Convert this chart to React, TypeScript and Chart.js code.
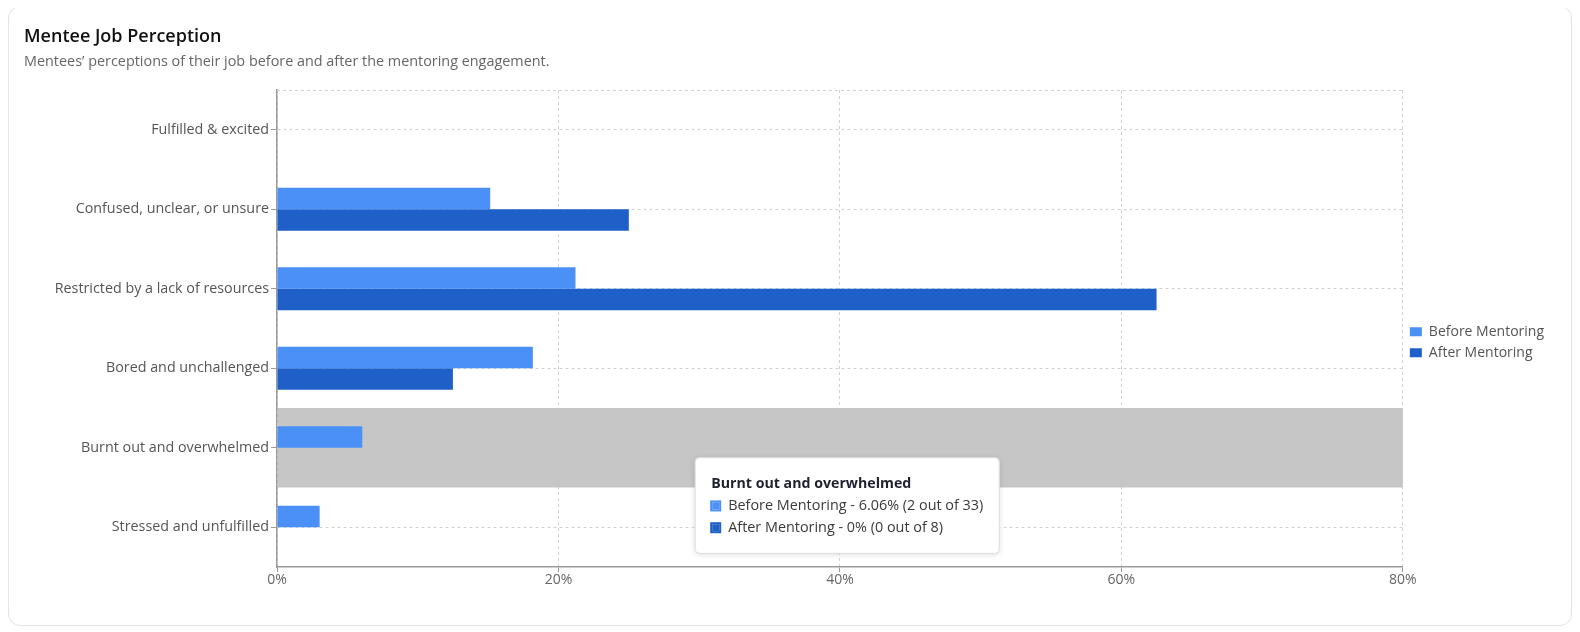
import { useEffect, useRef } from 'react';
import { Chart, registerables, Tooltip } from 'chart.js';

Chart.register(...registerables);

const FONT = '"Open Sans", "Noto Sans", sans-serif';

const categories = [
  'Fulfilled & excited',
  'Confused, unclear, or unsure',
  'Restricted by a lack of resources',
  'Bored and unchallenged',
  'Burnt out and overwhelmed',
  'Stressed and unfulfilled',
];
const beforeValues = [0, 15.15, 21.21, 18.18, 6.06, 3.03];
const afterValues = [0, 25, 62.5, 12.5, 0, 0];
const beforeCounts = [0, 5, 7, 6, 2, 1];
const afterCounts = [0, 2, 5, 1, 0, 0];
const beforeTotal = 33;
const afterTotal = 8;
const seriesLabels = ['Before Mentoring', 'After Mentoring'];
const xTickValues = [0, 20, 40, 60, 80];
const hoveredIndex = 4;
const pointerValue = 30;

const BEFORE = '#4a90f6';
const AFTER = '#1f5fc8';
const GRID = '#d2d2d2';
const AXIS = '#9a9a9a';

export default function App() {
  const ref = useRef<HTMLCanvasElement>(null);

  useEffect(() => {
    const canvas = ref.current;
    if (!canvas) return;
    Chart.defaults.font.family = FONT;
    (Tooltip.positioners as any).fixedPoint = function (_els: any, pos: any) {
      if (!pos) return false;
      return { x: pos.x, y: pos.y, xAlign: 'left', yAlign: 'top' };
    };

    const extras = {
      id: 'extras',
      beforeDatasetsDraw(chart: any) {
        const { ctx, chartArea, scales } = chart;
        const y = scales.y;
        const step = y.getPixelForValue(1) - y.getPixelForValue(0);
        const c = y.getPixelForValue(hoveredIndex);
        ctx.save();
        ctx.strokeStyle = GRID;
        ctx.lineWidth = 1;
        ctx.setLineDash([3, 3]);
        ctx.beginPath();
        ctx.moveTo(chartArea.left, chartArea.top + 0.5);
        ctx.lineTo(chartArea.right, chartArea.top + 0.5);
        ctx.stroke();
        ctx.fillStyle = '#c6c6c6';
        ctx.fillRect(chartArea.left + 1, c - step / 2, chartArea.right - chartArea.left - 1, step);
        ctx.restore();
      },
      beforeTooltipDraw(chart: any, args: any) {
        const t = args.tooltip;
        const ctx = chart.ctx;
        ctx.save();
        ctx.shadowColor = 'rgba(0,0,0,0.14)';
        ctx.shadowBlur = 6;
        ctx.shadowOffsetY = 1;
        ctx.fillStyle = '#fff';
        ctx.beginPath();
        ctx.roundRect(t.x, t.y, t.width, t.height, 4);
        ctx.fill();
        ctx.restore();
      },
    };

    const chart = new Chart(canvas, {
      type: 'bar',
      data: {
        labels: categories,
        datasets: [
          {
            label: seriesLabels[0],
            data: beforeValues,
            backgroundColor: BEFORE,
            hoverBackgroundColor: BEFORE,
            borderWidth: 0,
          },
          {
            label: seriesLabels[1],
            data: afterValues,
            backgroundColor: AFTER,
            hoverBackgroundColor: AFTER,
            borderWidth: 0,
          },
        ],
      },
      options: {
        indexAxis: 'y',
        animation: false,
        responsive: true,
        maintainAspectRatio: false,
        events: [],
        layout: { padding: { top: 83, right: 17, bottom: 0, left: 0 } },
        datasets: { bar: { categoryPercentage: 0.54, barPercentage: 1 } },
        scales: {
          x: {
            min: xTickValues[0],
            max: xTickValues[xTickValues.length - 1],
            ticks: {
              stepSize: xTickValues[1] - xTickValues[0],
              callback: (v: any) => v + '%',
              color: '#666',
              font: { size: 14 },
              padding: 0,
            },
            grid: { color: GRID, tickColor: AXIS, tickLength: 5 },
            border: { display: true, color: AXIS, width: 1.5, dash: [3, 3] },
            afterFit: (s: any) => {
              s.height = 58;
            },
          },
          y: {
            ticks: { color: '#555', font: { size: 14.3 }, padding: 2 },
            grid: { offset: false, color: GRID, tickColor: AXIS, tickLength: 6 },
            border: { display: true, color: AXIS, width: 1.5, dash: [3, 3] },
            afterFit: (s: any) => {
              s.width = 268;
            },
          },
        },
        plugins: {
          legend: {
            position: 'right',
            align: 'center',
            fullSize: false,
            title: { display: true, text: '', font: { size: 12 }, padding: { top: 13, bottom: 0 } },
            labels: {
              boxWidth: 12,
              boxHeight: 9,
              padding: 7,
              color: '#555',
              font: { size: 14 },
            },
          },
          tooltip: {
            enabled: true,
            position: 'fixedPoint' as any,
            animation: false,
            backgroundColor: '#fff',
            borderColor: '#dcdcdc',
            borderWidth: 1,
            cornerRadius: 4,
            caretSize: 0,
            caretPadding: 0,
            padding: { top: 18, bottom: 17, left: 16, right: 16 },
            titleColor: '#1e2230',
            titleFont: { size: 14.2, weight: 'bold' },
            titleMarginBottom: 4.5,
            bodyColor: '#3a3a3a',
            bodyFont: { size: 14.4 },
            bodySpacing: 4.5,
            boxWidth: 9,
            boxHeight: 9,
            boxPadding: 6,
            displayColors: true,
            multiKeyBackground: '#fff',
            callbacks: {
              title: (items: any[]) => items[0].label,
              label: (c: any) => {
                const counts = c.datasetIndex === 0 ? beforeCounts : afterCounts;
                const total = c.datasetIndex === 0 ? beforeTotal : afterTotal;
                const v = +Number(c.raw).toFixed(2);
                return `${c.dataset.label} - ${v}% (${counts[c.dataIndex]} out of ${total})`;
              },
              labelColor: (c: any) => {
                const col = c.datasetIndex === 0 ? BEFORE : AFTER;
                return { borderColor: col, backgroundColor: col, borderWidth: 2 } as any;
              },
            },
          },
        },
      },
      plugins: [extras],
    } as any);

    const px = chart.scales.x.getPixelForValue(pointerValue);
    const py = chart.scales.y.getPixelForValue(hoveredIndex) + 10;
    chart.tooltip?.setActiveElements(
      [
        { datasetIndex: 0, index: hoveredIndex },
        { datasetIndex: 1, index: hoveredIndex },
      ],
      { x: px, y: py }
    );
    chart.update();

    return () => chart.destroy();
  }, []);

  return (
    <div
      style={{
        position: 'relative',
        marginTop: -2,
        width: 1564,
        height: 620,
        boxSizing: 'border-box',
        border: '1px solid #e3e3e8',
        borderRadius: 12,
        background: '#fff',
        fontFamily: FONT,
      }}
    >
      <div style={{ position: 'absolute', left: 0, top: 0, width: 1562, height: 618 }}>
        <canvas ref={ref} />
      </div>
      <div
        style={{
          position: 'absolute',
          left: 15,
          top: 18,
          fontSize: 18,
          fontWeight: 600,
          lineHeight: '20px',
          color: '#111',
          whiteSpace: 'nowrap',
        }}
      >
        Mentee Job Perception
      </div>
      <div
        style={{
          position: 'absolute',
          left: 15,
          top: 45,
          fontSize: 14.4,
          lineHeight: '18px',
          color: '#666',
          whiteSpace: 'nowrap',
        }}
      >
        Mentees’ perceptions of their job before and after the mentoring engagement.
      </div>
    </div>
  );
}
